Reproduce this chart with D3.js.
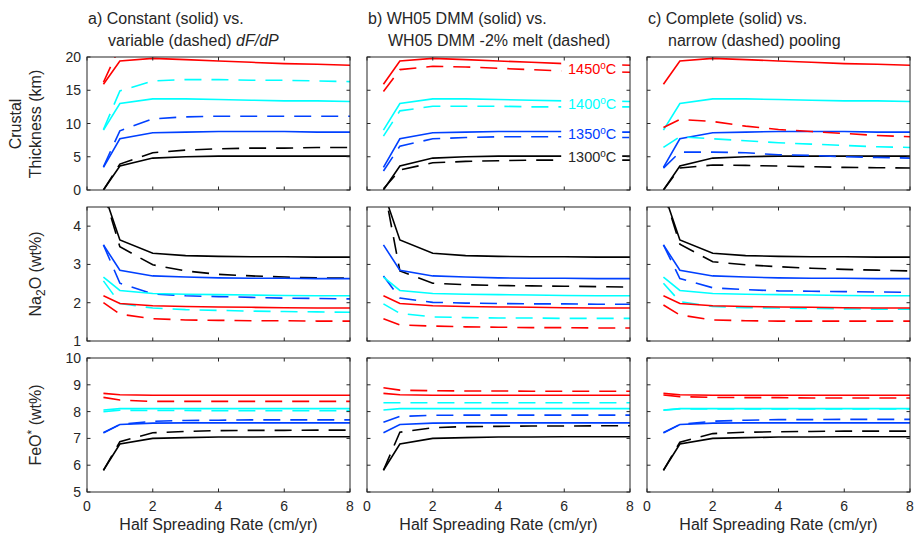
<!DOCTYPE html>
<html lang="en">
<head>
<meta charset="UTF-8">
<title>Crustal thickness, Na2O, FeO* vs spreading rate</title>
<script src="https://d3js.org/d3.v7.min.js"></script>
<style>
  html, body { margin: 0; padding: 0; background: #fff; overflow: hidden; }
  text { font-family: "Liberation Sans", Arial, Helvetica, sans-serif; fill: #262626; }
</style>
</head>
<body>
<div id="chart"></div>
<script>
// half spreading rates (cm/yr) and mantle potential temperatures
const rates = [0.5, 1, 2, 3, 4, 5, 6, 7, 8]
const temps = [1300, 1350, 1400, 1450]
const tempColors = ['#000000', '#0040ff', '#00ffff', '#ff0000']

const xTicks = [0, 2, 4, 6, 8]
const thickTicks = [0, 5, 10, 15, 20]
const naTicks = [1, 2, 3, 4]
const feTicks = [5, 6, 7, 8, 9, 10]

const titles = [
  ['a) Constant (solid) vs.', 'variable (dashed) ', 'dF/dP'],
  ['b) WH05 DMM (solid) vs.', 'WH05 DMM -2% melt (dashed)', ''],
  ['c) Complete (solid) vs.', 'narrow (dashed) pooling', '']
]

// crustal thickness (km), rows = 1300, 1350, 1400, 1450 C
const thickSolid = [
  [0, 3.6, 4.8, 5.0, 5.1, 5.1, 5.1, 5.1, 5.1],
  [3.4, 7.7, 8.6, 8.7, 8.8, 8.8, 8.8, 8.7, 8.7],
  [9.0, 13.0, 13.7, 13.7, 13.6, 13.5, 13.4, 13.4, 13.3],
  [15.9, 19.4, 19.8, 19.6, 19.4, 19.2, 19.0, 18.9, 18.75]
]
const thickDashA = [
  [0, 3.9, 5.6, 6.0, 6.2, 6.3, 6.3, 6.4, 6.4],
  [3.5, 8.9, 10.7, 11.0, 11.1, 11.1, 11.1, 11.1, 11.1],
  [9.1, 14.9, 16.4, 16.6, 16.6, 16.5, 16.5, 16.4, 16.3],
  [16.2, 21.6, 22.5, 22.6, 22.5, 22.4, 22.3, 22.2, 22.1]
]
const thickDashB = [
  [0.2, 3.0, 4.1, 4.3, 4.4, 4.5, 4.5, 4.5, 4.5],
  [2.85, 6.6, 7.7, 7.9, 8.0, 8.0, 8.0, 7.9, 7.9],
  [8.1, 11.9, 12.6, 12.6, 12.6, 12.5, 12.5, 12.5, 12.5],
  [14.8, 18.1, 18.6, 18.5, 18.3, 18.1, 17.9, 17.8, 17.7]
]
const thickDashC = [
  [0, 3.3, 3.75, 3.7, 3.6, 3.5, 3.4, 3.35, 3.3],
  [3.3, 5.7, 5.7, 5.6, 5.3, 5.2, 5.0, 4.9, 4.8],
  [6.4, 8.0, 7.7, 7.4, 7.1, 6.9, 6.7, 6.5, 6.4],
  [9.4, 10.6, 10.3, 9.6, 9.1, 8.8, 8.5, 8.2, 8.0]
]

// Na2O (wt%)
const naSolid = [
  [4.9, 3.64, 3.29, 3.23, 3.21, 3.20, 3.20, 3.19, 3.19],
  [3.51, 2.85, 2.70, 2.67, 2.65, 2.64, 2.64, 2.63, 2.63],
  [2.67, 2.32, 2.24, 2.22, 2.21, 2.20, 2.19, 2.18, 2.18],
  [2.18, 1.98, 1.92, 1.90, 1.89, 1.88, 1.87, 1.86, 1.86]
]
const naDashA = [
  [4.9, 3.46, 2.99, 2.83, 2.74, 2.70, 2.67, 2.65, 2.64],
  [3.51, 2.51, 2.23, 2.18, 2.16, 2.14, 2.12, 2.11, 2.10],
  [2.57, 1.98, 1.86, 1.82, 1.80, 1.78, 1.77, 1.76, 1.75],
  [2.0, 1.70, 1.58, 1.55, 1.54, 1.53, 1.53, 1.52, 1.52]
]
const naDashB = [
  [5.1, 2.83, 2.51, 2.47, 2.45, 2.44, 2.43, 2.42, 2.41],
  [2.70, 2.12, 2.01, 1.99, 1.98, 1.97, 1.97, 1.96, 1.96],
  [1.97, 1.72, 1.63, 1.61, 1.60, 1.60, 1.59, 1.59, 1.59],
  [1.58, 1.42, 1.39, 1.37, 1.36, 1.35, 1.35, 1.34, 1.34]
]
const naDashC = [
  [4.9, 3.53, 3.07, 2.99, 2.94, 2.90, 2.87, 2.85, 2.83],
  [3.51, 2.63, 2.39, 2.34, 2.31, 2.30, 2.29, 2.28, 2.27],
  [2.51, 2.03, 1.90, 1.87, 1.86, 1.85, 1.84, 1.83, 1.83],
  [1.94, 1.68, 1.55, 1.53, 1.52, 1.52, 1.52, 1.52, 1.52]
]

// FeO* (wt%)
const feSolid = [
  [5.81, 6.79, 7.00, 7.03, 7.05, 7.05, 7.06, 7.06, 7.06],
  [7.21, 7.52, 7.57, 7.58, 7.58, 7.58, 7.58, 7.58, 7.58],
  [8.06, 8.11, 8.11, 8.11, 8.11, 8.11, 8.11, 8.11, 8.11],
  [8.68, 8.63, 8.61, 8.61, 8.61, 8.61, 8.61, 8.61, 8.61]
]
const feDashA = [
  [5.81, 6.88, 7.21, 7.26, 7.29, 7.30, 7.30, 7.31, 7.31],
  [7.21, 7.52, 7.64, 7.67, 7.68, 7.69, 7.69, 7.69, 7.69],
  [8.00, 8.05, 8.04, 8.04, 8.03, 8.03, 8.03, 8.03, 8.03],
  [8.53, 8.43, 8.38, 8.38, 8.38, 8.38, 8.38, 8.38, 8.38]
]
const feDashB = [
  [5.81, 7.23, 7.40, 7.44, 7.45, 7.46, 7.46, 7.47, 7.47],
  [7.60, 7.82, 7.86, 7.87, 7.87, 7.87, 7.87, 7.87, 7.87],
  [8.33, 8.33, 8.33, 8.33, 8.33, 8.33, 8.33, 8.33, 8.33],
  [8.89, 8.80, 8.78, 8.77, 8.77, 8.76, 8.76, 8.76, 8.76]
]
const feDashC = [
  [5.81, 6.86, 7.18, 7.23, 7.25, 7.26, 7.27, 7.27, 7.27],
  [7.21, 7.52, 7.64, 7.68, 7.70, 7.70, 7.71, 7.71, 7.71],
  [8.05, 8.10, 8.10, 8.10, 8.10, 8.10, 8.10, 8.10, 8.10],
  [8.62, 8.56, 8.53, 8.52, 8.52, 8.51, 8.51, 8.51, 8.51]
]

// temperature labels in panel b (data coords of label centre)
const labelX = 6.85
const labelY = [5.0, 8.4, 12.9, 18.2]

const W = 917, H = 539
const colX = [87, 367, 647], panelW = 263
const rowsCfg = [
  { top: 57, h: 133, domain: [0, 20], ticks: thickTicks, solid: thickSolid, dashed: [thickDashA, thickDashB, thickDashC] },
  { top: 207, h: 134, domain: [1, 4.5], ticks: naTicks, solid: naSolid, dashed: [naDashA, naDashB, naDashC] },
  { top: 358, h: 134, domain: [5, 10], ticks: feTicks, solid: feSolid, dashed: [feDashA, feDashB, feDashC] }
]
const axisColor = '#262626'

const svg = d3.select('#chart').append('svg').attr('width', W).attr('height', H)

rowsCfg.forEach((row, ri) => {
  colX.forEach((cx, ci) => {
    const x = d3.scaleLinear().domain([0, 8]).range([cx, cx + panelW])
    const y = d3.scaleLinear().domain(row.domain).range([row.top + row.h, row.top])
    const clipId = `clip-${ri}-${ci}`
    svg.append('clipPath').attr('id', clipId).append('rect')
      .attr('x', cx).attr('y', row.top).attr('width', panelW).attr('height', row.h)

    const plot = svg.append('g').attr('clip-path', `url(#${clipId})`)
    const line = d3.line().x((d, i) => x(rates[i])).y(d => y(d))

    temps.forEach((t, ti) => {
      plot.append('path').attr('d', line(row.solid[ti]))
        .attr('fill', 'none').attr('stroke', tempColors[ti]).attr('stroke-width', 1.6)
      plot.append('path').attr('d', line(row.dashed[ci][ti]))
        .attr('fill', 'none').attr('stroke', tempColors[ti]).attr('stroke-width', 1.6)
        .attr('stroke-dasharray', '17,10')
    })

    // temperature labels with white boxes
    if (ri === 0 && ci === 1) {
      temps.forEach((t, ti) => {
        const g = svg.append('g').attr('transform', `translate(${x(labelX)},${y(labelY[ti])})`)
        g.append('rect').attr('x', -31).attr('y', -10).attr('width', 61).attr('height', 20).attr('fill', '#fff')
        const tx = g.append('text').attr('text-anchor', 'middle').attr('y', 5)
          .style('font-size', '14.5px').style('fill', tempColors[ti] === '#000000' ? '#262626' : tempColors[ti])
        tx.append('tspan').text(t)
        tx.append('tspan').text('o').attr('dy', -5).style('font-size', '10px')
        tx.append('tspan').text('C').attr('dy', 5)
      })
    }

    // axes box, ticks on all sides pointing inward
    const ax = svg.append('g')
    ax.append('rect').attr('x', cx).attr('y', row.top).attr('width', panelW).attr('height', row.h)
      .attr('fill', 'none').attr('stroke', axisColor).attr('stroke-width', 1)
    const tl = 3.5
    xTicks.forEach(v => {
      ax.append('line').attr('x1', x(v)).attr('x2', x(v)).attr('y1', row.top + row.h).attr('y2', row.top + row.h - tl).attr('stroke', axisColor)
      ax.append('line').attr('x1', x(v)).attr('x2', x(v)).attr('y1', row.top).attr('y2', row.top + tl).attr('stroke', axisColor)
    })
    row.ticks.forEach(v => {
      ax.append('line').attr('x1', cx).attr('x2', cx + tl).attr('y1', y(v)).attr('y2', y(v)).attr('stroke', axisColor)
      ax.append('line').attr('x1', cx + panelW).attr('x2', cx + panelW - tl).attr('y1', y(v)).attr('y2', y(v)).attr('stroke', axisColor)
    })
    if (ci === 0) {
      row.ticks.forEach(v => {
        ax.append('text').attr('x', cx - 6).attr('y', y(v) + 5).attr('text-anchor', 'end')
          .style('font-size', '14px').text(v)
      })
    }
    if (ri === 2) {
      xTicks.forEach(v => {
        ax.append('text').attr('x', x(v)).attr('y', row.top + row.h + 19).attr('text-anchor', 'middle')
          .style('font-size', '14px').text(v)
      })
      ax.append('text').attr('x', cx + panelW / 2).attr('y', 530).attr('text-anchor', 'middle')
        .style('font-size', '16px').text('Half Spreading Rate (cm/yr)')
    }
    if (ri === 0) {
      const tt = titles[ci]
      ax.append('text').attr('x', cx + 1).attr('y', 24).style('font-size', '16px').text(tt[0])
      const t2 = ax.append('text').attr('x', cx + 21).attr('y', 46).style('font-size', '16px')
      t2.append('tspan').text(tt[1])
      if (tt[2]) t2.append('tspan').style('font-style', 'italic').text(tt[2])
    }
  })
})

// y axis labels
const ylab = svg.append('g')
ylab.append('text').attr('transform', 'translate(21,124) rotate(-90)').attr('text-anchor', 'middle')
  .style('font-size', '16px').text('Crustal')
ylab.append('text').attr('transform', 'translate(41,124) rotate(-90)').attr('text-anchor', 'middle')
  .style('font-size', '16px').text('Thickness (km)')
const na = ylab.append('text').attr('transform', 'translate(41,274) rotate(-90)').attr('text-anchor', 'middle')
  .style('font-size', '16px')
na.append('tspan').text('Na')
na.append('tspan').text('2').attr('dy', 4).style('font-size', '12px')
na.append('tspan').text('O (wt%)').attr('dy', -4)
const fe = ylab.append('text').attr('transform', 'translate(41,425) rotate(-90)').attr('text-anchor', 'middle')
  .style('font-size', '16px')
fe.append('tspan').text('FeO')
fe.append('tspan').text('*').attr('dy', -5).style('font-size', '12px')
fe.append('tspan').text(' (wt%)').attr('dy', 5)
</script>
</body>
</html>
